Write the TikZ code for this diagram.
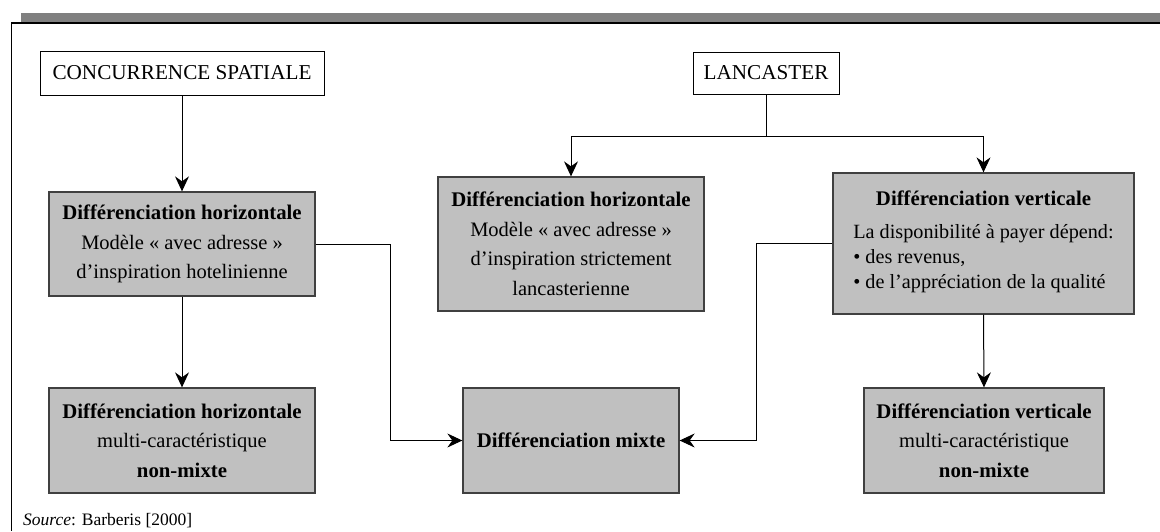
\documentclass[tikz,border=0pt]{standalone}
\usepackage{fontspec}
\setmainfont{Liberation Serif}
\usetikzlibrary{arrows.meta}
\definecolor{boxfill}{HTML}{C0C0C0}
\definecolor{boxline}{HTML}{404040}
\definecolor{barcol}{HTML}{808080}
\newcommand{\ttl}[1]{{\fontsize{20.8}{29.5}\selectfont\bfseries #1}}
\begin{document}
\begin{tikzpicture}[x=1pt,y=-1pt,
  topbox/.style={draw=black,line width=1pt,fill=white,inner sep=0pt,font=\fontsize{21.2}{24}\selectfont},
  graybox/.style={draw=boxline,line width=1.3pt,fill=boxfill,inner sep=0pt,align=center,font=\fontsize{20.5}{29.5}\selectfont},
  conn/.style={line width=1pt,draw=black},
  arr/.style={conn,-{Stealth[length=15pt,width=14pt,inset=5pt]}}]
\useasboundingbox (0,0) rectangle (1160,531);
% frame
\fill[barcol] (21,13) rectangle (1160,23);
\draw[line width=1.6pt] (11,23) -- (1160,23);
\draw[line width=1pt] (11,23) -- (11,531);
% top boxes
\node[topbox,minimum width=284pt,minimum height=44pt] (cs) at (182,73) {CONCURRENCE SPATIALE};
\node[topbox,minimum width=146pt,minimum height=42pt] (lc) at (766,73) {LANCASTER};
% gray boxes
\node[graybox,minimum width=266pt,minimum height=104pt] (h1) at (182,244)
  {\ttl{Différenciation horizontale}\\Modèle « avec adresse »\\d’inspiration hotelinienne};
\node[graybox,minimum width=266pt,minimum height=134pt] (h2) at (571,244)
  {\ttl{Différenciation horizontale}\\Modèle « avec adresse »\\d’inspiration strictement\\lancasterienne};
\node[graybox,minimum width=301pt,minimum height=141pt] (v1) at (983.5,243.5)
  {\ttl{Différenciation verticale}\\[14pt]
   {\renewcommand{\arraystretch}{1}\fontsize{20.2}{25}\selectfont\begin{tabular}{@{}l@{}}La disponibilité à payer dépend:\\• des revenus,\\• de l’appréciation de la qualité\end{tabular}}};
\node[graybox,minimum width=266pt,minimum height=105pt] (hb) at (182,440.5)
  {\ttl{Différenciation horizontale}\\multi-caractéristique\\\ttl{non-mixte}};
\node[graybox,minimum width=216pt,minimum height=105pt] (mx) at (571,440.5)
  {\ttl{Différenciation mixte}};
\node[graybox,minimum width=240pt,minimum height=105pt] (vb) at (984,440.5)
  {\ttl{Différenciation verticale}\\multi-caractéristique\\\ttl{non-mixte}};
% connectors
\draw[arr] (cs.south) -- (h1.north);
\draw[arr] (h1.south) -- (hb.north);
\draw[arr] (h1.east) -- ++(75,0) |- (mx.west);
\draw[arr] (v1.west) -- ++(-76,0) |- (mx.east);
\draw[conn] (lc.south) -- ++(0,42) coordinate (j);
\draw[arr] (j) -| (h2.north);
\draw[arr] (j) -| (v1.north);
\draw[arr] (v1.south) -- (vb.north);
% source
\node[anchor=base west,inner sep=0pt,font=\fontsize{17.5}{18}\selectfont] (src) at (23,525) {\textit{Source}: Barberis [2000]};
\end{tikzpicture}
\end{document}
